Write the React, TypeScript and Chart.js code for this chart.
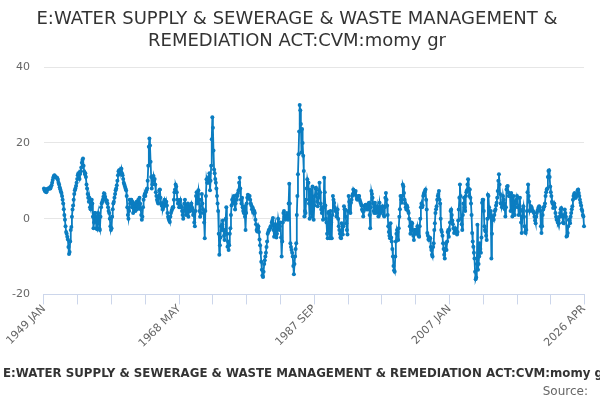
import { useEffect, useRef } from 'react';
import { Chart, registerables } from 'chart.js';

Chart.register(...registerables);
Chart.defaults.font.family = 'DejaVu Sans';

const MONTHS = ['JAN', 'FEB', 'MAR', 'APR', 'MAY', 'JUN', 'JUL', 'AUG', 'SEP', 'OCT', 'NOV', 'DEC'];
const START_YEAR = 1949;
const TITLE = 'E:WATER SUPPLY & SEWERAGE & WASTE MANAGEMENT & REMEDIATION ACT:CVM:momy gr';
const TITLE_LINES = ['E:WATER SUPPLY & SEWERAGE & WASTE MANAGEMENT &', 'REMEDIATION ACT:CVM:momy gr'];
const SOURCE = 'Source:';
const TICK_STEP = 58;
const Y_TICKS = [-20, 0, 20, 40];

// monthly values, one row per year (1949 JAN .. 2026 APR)
const growth = [
	8, 7.5, 7.2, 7.8, 7, 7.3, 7.8, 8, 8, 7.9, 8.2, 8,
	8.4, 8.8, 9.5, 10.2, 10.9, 11.3, 11.5, 11.2, 11, 10.8, 10.9, 10.7,
	10.2, 9.5, 9, 8.3, 7.8, 7.2, 6.8, 6, 5, 4, 2.5, 1,
	-0.3, -2, -3.5, -4, -4.8, -5.5, -7.5, -9.3, -8.8, -6, -3, -2.2,
	0.5, 2.4, 3.5, 5, 6.5, 7.5, 8, 8.6, 9.5, 10.5, 11.5, 12,
	11, 10.5, 11.8, 12.5, 13.5, 14.8, 15.5, 15.9, 14, 12.5, 11.8, 12,
	11, 9, 8, 6.5, 5.5, 4.5, 5.5, 3, 2.5, 4.5, 5, 4,
	0.5, -2.5, -1, 1.5, 1.5, -0.5, -2.5, -2.8, 0.5, 1.5, -1, -2.5,
	-3, 0.5, 3, 4, 4.5, 5, 5.8, 6.7, 6.5, 5.8, 5, 4.5,
	4.8, 4, 3, 2, 1.5, 0, -2, -3, -2.5, 0.5, 2.5, 4,
	4.5, 5.5, 6.5, 7.5, 8, 8.8, 10, 11.5, 12.5, 12.8, 12, 13,
	12.5, 13.2, 12, 11.5, 10.5, 9.5, 9, 8.5, 8, 7.5, 6, 3,
	1, 0, 2, 5, 4, 5, 5, 3, 4.5, 1.5, 3.5, 2.5,
	4, 2, 3.5, 4.5, 2.5, 3.5, 5, 3, 5.5, 4, 2.5, 1,
	-0.3, 0.5, 3, 5, 6, 6.5, 6, 7, 7.5, 8, 10, 14,
	19, 21.2, 19.3, 15, 11, 8, 9, 10.5, 11.3, 10, 10.5, 9,
	7, 6, 5, 4.5, 4, 6, 7.5, 7.7, 5.5, 4, 3.5, 4,
	2.4, 3, 4, 5, 4.5, 3.5, 4.5, 3.5, 1.5, 0.5, 0, -0.5,
	-0.9, 0.5, 1.5, 2, 2.5, 3, 3, 5, 7, 7.7, 9, 8.5,
	7, 5, 4, 4, 3, 4.5, 5, 3.5, 3, 2, 1, 0,
	2, 4, 5, 3, 1, 1.5, 3.5, 4, 0.5, 2, 3, 2,
	3.5, 4, 3, 2.5, 1, 1.5, -1, -2, 2, 6, 7, 4,
	6.5, 7.5, 5, 2, 0.5, 1.5, 5, 6.5, 4, 2.5, 1.5, -1,
	-5.2, 2, 6, 10.4, 9.5, 10, 9.5, 11, 12, 7.5, 10, 14,
	21, 26.8, 24, 18, 13, 12, 10.5, 9.5, 8, 6, 4, 2,
	-4, -9.5, -7, -5, -2, -3, -1.5, -0.5, -3, -4.5, -5.6, -3,
	0, 3, -4, -7.4, -6, -8.3, -7, -4, -2.5, 1, 3.5, 5,
	4, 5.5, 6, 4.5, 2.4, 4, 6.2, 5, 6, 6.8, 7.5, 9.5,
	10.8, 8, 5, 4, 5.5, 3, 2, 1.5, 3.3, 0.5, -3, 1.5,
	4, 5.5, 6.3, 5.5, 6, 6, 5, 4, 3.5, 2.5, 3, 2.5,
	1.5, 2, 1.5, -0.3, -1.5, -3, -3.4, -2.5, -2, -3.5, -5.5, -7,
	-9, -11.4, -13.5, -15, -15.4, -14, -12, -11, -10, -9, -7.5, -6,
	-4, -3.5, -3, -3, -2.5, -2, -2, -1, -0.5, 0.2, -3, -4.8,
	-2.5, -1.5, -4, -5, -4, -2, 0, -1, -3, -2, -1, -5,
	-10, -6, -1, 1.5, 2, 0.5, -0.3, 0.5, 0.8, 1.5, 0.5, -0.3,
	4, 9.2, 4, -6.5, -7.5, -8.3, -9, -10, -12.5, -14.7, -12, -10,
	-8, -6.5, 1, 6, 11.7, 17, 23, 30, 28.6, 25, 17.5, 23.7,
	20, 16.6, 12.6, 0.6, 2, 1.5, 5, 8, 10.4, 9.5, 9.5, 4,
	0, 7.7, 6, 1.5, 0.5, 8.5, 5, -0.3, 3.5, 6, 8, 8.2,
	6.5, 4.5, 3.3, 5.5, 7.5, 9.5, 7, 4, 2.4, 1.5, 3, -0.3,
	3, 10.8, 7, 3.5, 0, -1, -4, -5.2, 1.5, 1.8, -3, -5.2,
	2, -1, -5.2, 1, 6, 5, 4.2, 3, 2, 2.4, 0.6, 1.5,
	2.4, 0, -2, -3, -4, -5, -5.2, -1.2, -3, -4.2, -2, 3.3,
	2.5, 2.4, 0.5, -1.2, -3, -4.2, 2, 6, 4.5, 3.5, 1.5, 4.2,
	5, 6, 6.5, 7.7, 7.3, 6.5, 6.9, 7.3, 6, 5.2, 5, 5.5,
	6, 6, 5, 4.5, 4, 3.5, 2.4, 2, 0.6, 2, 3.3, 3.5,
	3.7, 3.5, 2.5, 2.4, 3, 4, 4.2, 1, -2.5, 3, 7.3, 6.5,
	5.5, 4, 2, 1.5, 4.2, 3, 1.5, 2, 3.3, 2, 0.6, 2.5,
	4.2, 3, 1.5, 2, 3, 3.3, 2, 1, 0.6, 3, 5.5, 6.8,
	5, 3.5, 1, -2, -3.5, -4.5, -5.2, -1.2, -5, -6, -8, -10,
	-12.5, -13.6, -14, -10, -6, -4, -3, -3.5, -5.6, -2.5, 0.5, 2.5,
	6, 5, 4.2, 6, 9, 8.5, 6.8, 5, 4, 3, 2.4, 3.5,
	3, 2, 1.5, 0, -2, -4, -3, -1, -1.2, -3, -4.5, -5.6,
	-4, -3, -2.9, -4, -3, -2, -3, -4.5, -4.8, -2, 0, 3,
	4, 3, 3.5, 6, 6.5, 7, 7.3, 7.7, 5, 2.4, -3.8, -4.5,
	-5.5, -5.6, -5, -5.2, -7.5, -8.3, -9.5, -10, -7.5, -6.5, -3, -1.2,
	1.5, 2.5, 3.3, 5, 6, 6.5, 7.3, 5, 4, 0, -3, -3.5,
	-4.5, -6.5, -8, -9.5, -10.5, -8, -6.5, -8.3, -6, -3.5, -3, -4.8,
	-3, -1, 2, 2.4, 1, -0.5, -1.5, -2.5, -3.8, -3, -2.5, -3,
	-3.5, -4.2, -3.5, -0.5, 2.4, 5.5, 9, 6, 0, -1.5, -3, 1,
	4, 5.5, 3, 2, 6, 7, 7.5, 9, 10.4, 8, 6, 7.7,
	5.5, 4, 1, -3.8, -6, -7.4, -9, -10.5, -14, -16, -15.5, -12,
	-1.6, -13.5, -12, -10, -6.5, -8, -9, -5, 4.2, 5, 5, 2,
	-2, -3, -3.4, -4.5, -5.6, 0, 6.3, 6, 3, 0.6, 1, 2,
	-10.5, -4, 0.5, 0, -0.3, 1, 2, 2.4, 3.5, 4.2, 5.5, 7.3,
	10, 11.7, 9, 6.5, 4, 4, 3, 3.5, 6, 5, 4, 2.5,
	0.6, 3, 7.7, 8.5, 8.6, 7, 6, 6, 6, 2, 6.8, 5,
	0.6, 3, 6, 4.5, 1, 3, 4, 5, 6, 5.5, 3, 1,
	3.5, 5.5, 2, -1, -3.8, 0.6, 2.5, 3.3, 0.5, -2, -3.5, -3.8,
	-3, 2, 7, 9, 6, 4.5, 2, 2.5, 3.3, 3, 2.4, 2,
	1.8, 1.5, 0.5, -0.5, -1.2, 0.5, 1.5, 2, 2.4, 3, 3.3, 3,
	2, -2, -3.8, -2, 1, 2.4, 3, 3.3, 4, 6, 7, 7.7,
	8, 11, 12.6, 12.8, 11, 8.5, 7, 6, 4.5, 4, 2.8, 3.5,
	4, 3, 1.5, 0.5, -0.3, -0.3, -1, -0.5, -1.2, 0.5, 1.5, 2.5,
	2.8, 1, 0.6, -1, -1.2, 1, 2.4, 1.5, 0.5, -4.7, -4.5, -3.8,
	-2, -0.3, -0.5, -1.2, 0.5, 1.5, 2.5, 3.3, 5, 6, 6.5, 6.8,
	5.5, 5.5, 6, 6.5, 7.5, 7.7, 6.8, 6, 5, 4.2, 3.5, 2.5,
	2, 1, 0.6, -2,
];

const labels = growth.map((_, i) => `${START_YEAR + Math.floor(i / 12)} ${MONTHS[i % 12]}`);

// Title, axis title and source are painted here so Chart.js does not squeeze or re-centre them;
// the built-in title/subtitle/axis title stay on (transparent) only to reserve their space.
const textPlugin = {
	id: 'texts',
	afterDraw(chart: any) {
		const ctx = chart.ctx;
		const x = chart.scales.x;
		ctx.save();
		ctx.fillStyle = '#333333';
		ctx.textAlign = 'center';
		ctx.textBaseline = 'alphabetic';
		ctx.font = "18px 'DejaVu Sans'";
		TITLE_LINES.forEach((line, i) => ctx.fillText(line, 297, 24 + i * 21.5));

		ctx.font = "bold 11.8px 'DejaVu Sans'";
		ctx.textAlign = 'left';
		ctx.fillText(TITLE, 3, x.bottom - 5);

		ctx.font = "12px 'DejaVu Sans'";
		ctx.fillStyle = '#666666';
		ctx.textAlign = 'right';
		ctx.fillText(SOURCE, 588, 395);
		ctx.restore();
	},
};

export default function App() {
	const canvas = useRef<HTMLCanvasElement | null>(null);

	useEffect(() => {
		if (!canvas.current) return;
		const chart = new Chart(canvas.current, {
			type: 'line',
			data: {
				labels,
				datasets: [
					{
						label: TITLE,
						data: growth,
						borderColor: '#0b7dc1',
						backgroundColor: '#0b7dc1',
						borderWidth: 1.8,
						pointRadius: 2,
						pointBorderWidth: 0,
						tension: 0,
						fill: false,
					},
				],
			},
			options: {
				animation: false,
				responsive: true,
				maintainAspectRatio: false,
				layout: { padding: { left: -2, right: 16, top: 0, bottom: 0 } },
				plugins: {
					legend: { display: false },
					tooltip: { enabled: false },
					title: {
						display: true,
						text: TITLE_LINES,
						color: 'rgba(0,0,0,0)',
						font: { size: 18, weight: 'normal' },
						padding: { top: 9, bottom: 15 },
					},
					subtitle: {
						display: true,
						position: 'bottom',
						text: ' ',
						color: 'rgba(0,0,0,0)',
						font: { size: 12 },
						padding: { top: 2, bottom: 2 },
					},
				},
				scales: {
					x: {
						type: 'category',
						offset: false,
						afterBuildTicks: (axis: any) => {
							const t = [];
							for (let v = 0; v < labels.length - 1; v += TICK_STEP) t.push({ value: v });
							t.push({ value: labels.length - 1 });
							axis.ticks = t;
						},
						ticks: {
							autoSkip: false,
							minRotation: 45,
							maxRotation: 45,
							padding: -2,
							color: '#666666',
							font: { size: 11 },
							callback: (val: any, idx: number) => (idx % 4 === 0 ? labels[val] : ''),
						},
						grid: { drawOnChartArea: false, drawTicks: true, tickLength: 10, color: '#ccd6eb' },
						border: { color: '#ccd6eb' },
						title: {
							display: true,
							text: ' ',
							color: 'rgba(0,0,0,0)',
							font: { size: 12, weight: 'bold' },
							padding: { top: 17, bottom: 2 },
						},
					},
					y: {
						min: -20,
						max: 40,
						afterBuildTicks: (axis: any) => {
							axis.ticks = Y_TICKS.map((value) => ({ value }));
						},
						ticks: { color: '#666666', font: { size: 11 }, padding: 14 },
						grid: { color: '#e6e6e6', drawTicks: false },
						border: { display: false },
					},
				},
			},
			plugins: [textPlugin],
		});
		return () => chart.destroy();
	}, []);

	return (
		<div style={{ position: 'absolute', left: 0, top: 0, width: 600, height: 400, background: '#fff' }}>
			<canvas ref={canvas}></canvas>
		</div>
	);
}
